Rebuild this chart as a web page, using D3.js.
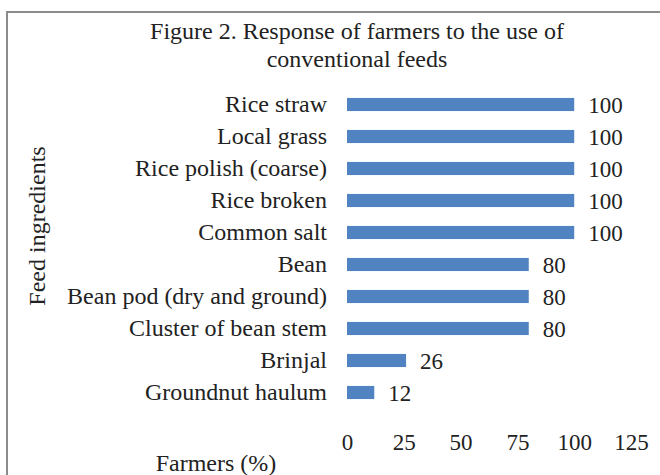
<!DOCTYPE html>
<html>
<head>
<meta charset="utf-8">
<script src="https://cdn.jsdelivr.net/npm/d3@7"></script>
<style>
  body { margin: 0; background: #fff; }
  text { font-family: "Liberation Serif", "Times New Roman", serif; fill: #222; }
</style>
</head>
<body>
<svg id="chart"></svg>
<script>
const width = 660;
const height = 475;

const categories = ["Rice straw", "Local grass", "Rice polish (coarse)", "Rice broken", "Common salt",
    "Bean", "Bean pod (dry and ground)", "Cluster of bean stem", "Brinjal", "Groundnut haulum"];
const values = [100, 100, 100, 100, 100, 80, 80, 80, 26, 12];
const xTicks = [0, 25, 50, 75, 100, 125];

const svg = d3.select("#chart")
    .attr("width", width)
    .attr("height", height);

// outer frame
svg.append("rect")
    .attr("x", 7).attr("y", 12)
    .attr("width", 670).attr("height", 480)
    .attr("fill", "none")
    .attr("stroke", "#8c8c8c")
    .attr("stroke-width", 2);

const xScale = d3.scaleLinear().domain([0, 125]).range([347, 631]);
const yScale = d3.scaleBand().domain(categories).range([88.5, 408.5]).paddingInner(0.59).paddingOuter(0.295);

svg.append("g")
    .selectAll("rect")
    .data(values)
    .enter()
    .append("rect")
    .attr("x", xScale(0))
    .attr("y", (d, i) => yScale(categories[i]))
    .attr("width", d => xScale(d) - xScale(0))
    .attr("height", yScale.bandwidth())
    .attr("fill", "#5183c2");

// value labels
svg.append("g")
    .selectAll("text")
    .data(values)
    .enter()
    .append("text")
    .attr("x", d => xScale(d) + 14)
    .attr("y", (d, i) => yScale(categories[i]) + yScale.bandwidth() / 2)
    .attr("dy", "0.35em")
    .style("font-size", "23px")
    .text(d => d);

// category axis
const yAxis = d3.axisLeft(yScale).tickSize(0).tickPadding(20);
const gy = svg.append("g")
    .attr("transform", `translate(${xScale(0)}, 0)`)
    .call(yAxis);
gy.select(".domain").remove();
gy.selectAll("text").style("font-size", "24px").style("font-family", "Liberation Serif").attr("fill", "#222");

// x axis labels only
const xAxis = d3.axisBottom(xScale).tickValues(xTicks).tickSize(0).tickPadding(0);
const gx = svg.append("g")
    .attr("transform", `translate(0, 434)`)
    .call(xAxis);
gx.select(".domain").remove();
gx.selectAll("text").style("font-size", "23px").style("font-family", "Liberation Serif").attr("fill", "#222");

// titles
svg.append("text")
    .attr("x", 357).attr("y", 39)
    .attr("text-anchor", "middle")
    .style("font-size", "24px")
    .text("Figure 2. Response of farmers to the use of");
svg.append("text")
    .attr("x", 357).attr("y", 67)
    .attr("text-anchor", "middle")
    .style("font-size", "24px")
    .text("conventional feeds");

svg.append("text")
    .attr("x", 216).attr("y", 471)
    .attr("text-anchor", "middle")
    .style("font-size", "24px")
    .text("Farmers (%)");

svg.append("text")
    .attr("transform", "translate(45, 226) rotate(-90)")
    .attr("text-anchor", "middle")
    .style("font-size", "24px")
    .text("Feed ingredients");
</script>
</body>
</html>
